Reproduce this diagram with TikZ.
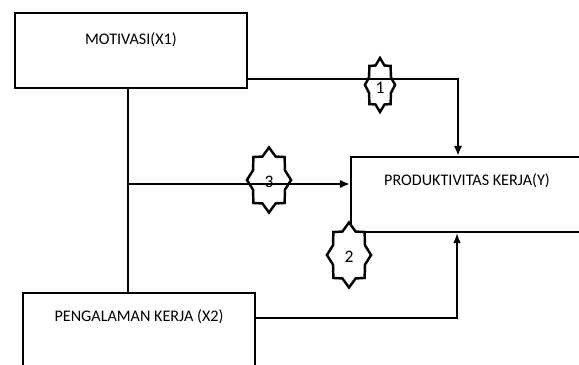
\documentclass[tikz,border=0pt]{standalone}
\usepackage{fontspec}
\setmainfont{Carlito}
\usetikzlibrary{shapes.geometric,arrows.meta}
\tikzset{
  box/.style={draw, line width=1.4pt, minimum width=4.64cm, minimum height=1.5cm, inner sep=0pt},
  boxtext/.style={anchor=center, yshift=-0.5cm, font=\fontsize{9.2}{11}\selectfont},
  starmark/.style={star, star points=8, star point ratio=1.28, draw, line width=1.4pt, inner sep=0pt, minimum size=1.3cm, xscale=0.68},
  numtext/.style={font=\fontsize{10}{12}\selectfont},
  conn/.style={line width=1.4pt},
  arr/.style={line width=1.4pt, -{Latex[length=2mm,width=1.7mm]}},
  thinarr/.style={line width=0.7pt, -{Latex[length=2mm,width=1.5mm]}}
}
\begin{document}
\begin{tikzpicture}[x=0.02cm,y=-0.02cm]
  \clip (0,0) rectangle (579,365);
  \fill[white] (0,0) rectangle (579,365);
  % boxes
  \node[box, label={[boxtext, yshift=-0.06cm]north:MOTIVASI(X1)}] (mot) at (131,50.5) {};
  \node[box, label={[boxtext]north:PRODUKTIVITAS KERJA(Y)}] (prod) at (467,194.5) {};
  \node[box, label={[boxtext]north:PENGALAMAN KERJA (X2)}] (peng) at (139,330.5) {};
  % turning points
  \coordinate (j) at (128,184);
  \coordinate (t1) at (458,79);
  \coordinate (b2) at (457,318);
  % connectors
  \draw[conn] (mot.south -| j) -- (peng.north -| j);
  \draw[arr] (j) -- (prod.west |- j);
  \draw[arr] (mot.east |- t1) -| (prod.north -| t1);
  \draw[thinarr] (peng.east |- b2) -| (prod.south -| b2);
  % stars
  \node[starmark, minimum size=1.08cm, xscale=0.82] (s1) at (380,85) {};
  \node[starmark] (s3) at (269,180) {};
  \node[starmark, fill=white] (s2) at (349,255) {};
  \node[numtext] (n1) at (380,88) {1};
  \node[numtext] (n3) at (269,182) {3};
  \node[numtext] (n2) at (349,257) {2};
\end{tikzpicture}
\end{document}
